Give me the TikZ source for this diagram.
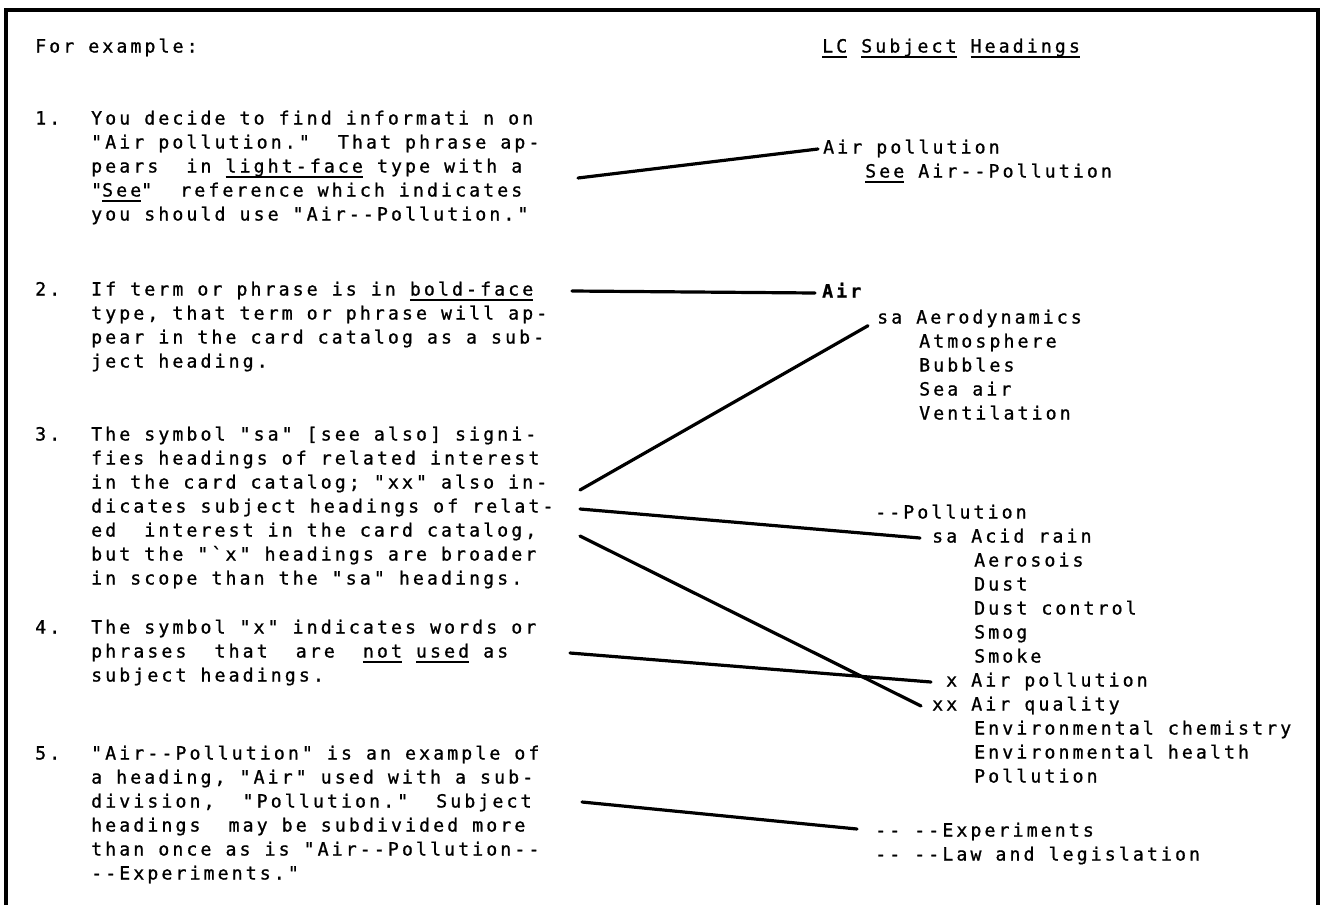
\documentclass[tikz,border=0pt]{standalone}
\usepackage{fontspec}
\setmonofont{DejaVu Sans Mono}[LetterSpace=17,FakeBold=1]

\newcommand\ulin[1]{\leavevmode\setbox0\hbox{#1}\rlap{\vrule height -3pt depth 5pt width \wd0}\box0\relax}

\begin{document}
\begin{tikzpicture}[x=1pt,y=-1pt]

\tikzset{txt/.style={anchor=west, inner sep=0pt, text height=13pt, text depth=4pt,
    font=\fontsize{18.2}{24}\ttfamily},
  conn/.style={line width=3.2pt, line cap=round}}

\useasboundingbox (0,0) rectangle (1324,905);

%% Frame
\draw[line width=4pt] (6,905) -- (6,10) -- (1318,10) -- (1318,905);

%% Headers
\node[txt] (forex) at (35,48) {For example:};
\node[txt] (lchead) at (822,48) {\ulin{LC} \ulin{Subject} \ulin{Headings}};

%% Item 1
\node[txt] (n1) at (35,120) {1.};
\foreach \t [count=\i from 0] in {{You decide to find informati n on},
    {"Air pollution."~ That phrase ap-},
    {pears~ in \ulin{light-face} type with a},
    {"\ulin{See}"~ reference which indicates},
    {you should use "Air--Pollution."}}
  \node[txt] (one-\i) at (91,{120+24*\i}) {\t};

%% Item 2
\node[txt] (n2) at (35,291) {2.};
\foreach \t [count=\i from 0] in {{If term or phrase is in \ulin{bold-face}},
    {type, that term or phrase will ap-},
    {pear in the card catalog as a sub-},
    {ject heading.}}
  \node[txt] (two-\i) at (91,{291+24*\i}) {\t};

%% Item 3
\node[txt] (n3) at (35,436) {3.};
\foreach \t [count=\i from 0] in {{The symbol "sa" [see also] signi-},
    {fies headings of related interest},
    {in the card catalog; "xx" also in-},
    {dicates subject headings of relat-},
    {ed~ interest in the card catalog,},
    {but the "`x" headings are broader},
    {in scope than the "sa" headings.}}
  \node[txt] (three-\i) at (91,{436+24*\i}) {\t};

%% Item 4
\node[txt] (n4) at (35,629) {4.};
\foreach \t [count=\i from 0] in {{The symbol "x" indicates words or},
    {phrases~ that~ are~ \ulin{not} \ulin{used} as},
    {subject headings.}}
  \node[txt] (four-\i) at (91,{629+24*\i}) {\t};

%% Item 5
\node[txt] (n5) at (35,755) {5.};
\foreach \t [count=\i from 0] in {{"Air--Pollution" is an example of},
    {a heading, "Air" used with a sub-},
    {division,~ "Pollution."~ Subject},
    {headings~ may be subdivided more},
    {than once as is "Air--Pollution--},
    {--Experiments."}}
  \node[txt] (five-\i) at (91,{755+24*\i}) {\t};

%% LC entries
\node[txt] (airpol) at (823,149) {Air pollution};
\node[txt] (seeair) at (865,173) {\ulin{See} Air--Pollution};

\node[txt] (air) at (822,293) {\bfseries Air};
\node[txt] (saaero) at (877,319) {sa Aerodynamics};
\foreach \t [count=\i] in {Atmosphere,Bubbles,Sea air,Ventilation}
  \node[txt] (aero-\i) at (919,{319+24*\i}) {\t};

\node[txt] (pollu) at (875,514) {--Pollution};
\node[txt] (saacid) at (932,538) {sa Acid rain};
\foreach \t [count=\i] in {Aerosois,Dust,Dust control,Smog,Smoke}
  \node[txt] (acid-\i) at (974,{538+24*\i}) {\t};
\node[txt] (xairpol) at (946,682) {x Air pollution};
\node[txt] (xxairq) at (932,706) {xx Air quality};
\foreach \t [count=\i] in {Environmental chemistry,Environmental health,Pollution}
  \node[txt] (env-\i) at (974,{706+24*\i}) {\t};

\node[txt] (exper) at (875,832) {-- --Experiments};
\node[txt] (lawleg) at (875,856) {-- --Law and legislation};

%% Connectors
\coordinate (s1) at (578,178);
\coordinate (s2) at (572,291);
\coordinate (s3a) at (580,490);
\coordinate (s3b) at (580,509);
\coordinate (s3c) at (580,536);
\coordinate (s4) at (570,653);
\coordinate (s5) at (582,802);

\draw[conn] (s1) -- ([xshift=-5pt]airpol.west);
\draw[conn] (s2) -- ([xshift=-7pt]air.west);
\draw[conn] (s3a) -- ([xshift=-9pt,yshift=2pt]saaero.south west);
\draw[conn] (s3b) -- ([xshift=-12pt]saacid.west);
\draw[conn] (s3c) -- ([xshift=-11pt]xxairq.west);
\draw[conn] (s4) -- ([xshift=-15pt]xairpol.west);
\draw[conn] (s5) -- ([xshift=-18pt,yshift=3pt]exper.west);

\end{tikzpicture}
\end{document}
